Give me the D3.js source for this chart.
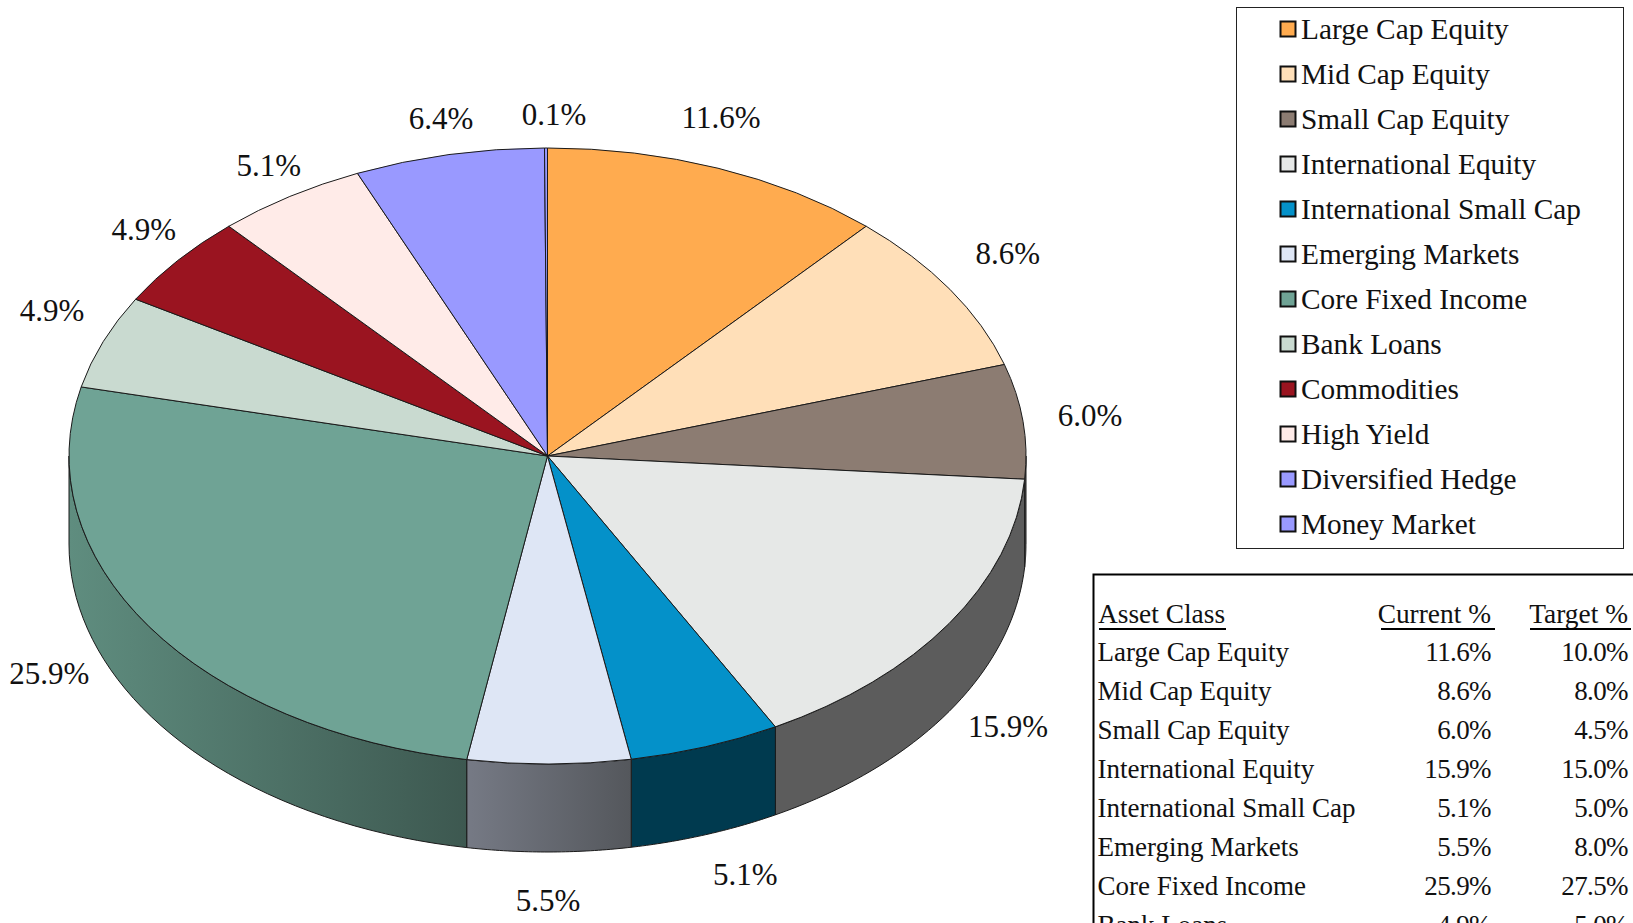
<!DOCTYPE html>
<html><head><meta charset="utf-8">
<style>html,body{margin:0;padding:0;background:#fff;overflow:hidden}text{font-family:"Liberation Serif",serif;fill:#111}</style>
<script src="https://cdnjs.cloudflare.com/ajax/libs/d3/7.8.5/d3.min.js"></script></head><body>
<script>
const categories=["Large Cap Equity","Mid Cap Equity","Small Cap Equity","International Equity","International Small Cap","Emerging Markets","Core Fixed Income","Bank Loans","Commodities","High Yield","Diversified Hedge","Money Market"];
const currentPct=[11.6,8.6,6.0,15.9,5.1,5.5,25.9,4.9,4.9,5.1,6.4,0.1];
const tableCategories=categories.slice(0,8);
const targetPct=[10.0,8.0,4.5,15.0,5.0,8.0,27.5,5.0];
const topColors=["#FFAB4F","#FFDFB8","#8C7C72","#E6E8E7","#0491C9","#DEE6F5","#6FA395","#C9DAD0","#9A1420","#FFEBE8","#9999FF","#9999FF"];
const sideLeft=["#000","#000","#5c5c5c","#5c5c5c","#003A4F","#767A85","#5F8D7F","#000","#000","#000","#000","#000"];
const sideRight=["#000","#000","#5c5c5c","#5c5c5c","#003A4F","#54575C","#3D5850","#000","#000","#000","#000","#000"];
const labelNudge=[[3,-51],[58,-36],[67,-6],[59,103],[40,128],[-1,137],[-100,47],[-51,-31],[-34,-31],[-21,-31],[-8,-36],[8,-34]];

const W=1633,H=923,cx=547.5,cy=456,rx=478.5,ry=308,depth=88;
const svg=d3.select("body").append("svg").attr("width",W).attr("height",H).style("display","block");
const defs=svg.append("defs");
const pie=d3.pie().sort(null).value(d=>d)(currentPct);
const px=a=>cx+rx*Math.sin(a), py=a=>cy-ry*Math.cos(a);
const pieG=svg.append("g");

// side walls (front half of the rim only)
const lo=Math.PI/2, hi=3*Math.PI/2;
pie.forEach((s,i)=>{
  const a0=Math.max(s.startAngle,lo),a1=Math.min(s.endAngle,hi);
  if(a1<=a0) return;
  const angs=d3.range(0,41).map(k=>a0+(a1-a0)*k/40);
  const pts=angs.map(a=>[px(a),py(a)]).concat(angs.slice().reverse().map(a=>[px(a),py(a)+depth]));
  const id="side"+i;
  const xs=pts.map(p=>p[0]);
  const g=defs.append("linearGradient").attr("id",id).attr("gradientUnits","userSpaceOnUse")
    .attr("x1",d3.min(xs)).attr("x2",d3.max(xs)).attr("y1",0).attr("y2",0);
  g.append("stop").attr("offset",0).attr("stop-color",sideLeft[i]);
  g.append("stop").attr("offset",1).attr("stop-color",sideRight[i]);
  pieG.append("path").attr("d",d3.line()(pts)+"Z").attr("fill",`url(#${id})`).attr("stroke","#1a1a1a").attr("stroke-width",1).attr("stroke-linejoin","round");
});

// top face
const arc=d3.arc().innerRadius(0).outerRadius(rx);
pieG.selectAll("path.top").data(pie).join("path").attr("class","top")
  .attr("d",arc).attr("transform",`translate(${cx},${cy}) scale(1,${ry/rx})`)
  .attr("fill",(d,i)=>topColors[i]).attr("stroke","#1a1a1a").attr("stroke-width",1)
  .attr("vector-effect","non-scaling-stroke").attr("stroke-linejoin","round");

// data labels
const fmt=d3.format(".1f");
svg.append("g").selectAll("text").data(pie).join("text")
  .attr("x",(d,i)=>px((d.startAngle+d.endAngle)/2)+labelNudge[i][0])
  .attr("y",(d,i)=>py((d.startAngle+d.endAngle)/2)+labelNudge[i][1])
  .attr("text-anchor","middle").attr("dominant-baseline","central").attr("font-size",31)
  .text(d=>fmt(d.value)+"%");

// legend
svg.append("rect").attr("x",1236.5).attr("y",7.5).attr("width",387).attr("height",541).attr("fill","#fff").attr("stroke","#222").attr("stroke-width",1);
const ly=d3.scalePoint().domain(categories).range([29,524]);
const lg=svg.append("g").selectAll("g").data(categories).join("g").attr("transform",d=>`translate(0,${ly(d)})`);
lg.append("rect").attr("x",1280.5).attr("y",-7.5).attr("width",15).attr("height",15)
  .attr("fill",(d,i)=>topColors[i]).attr("stroke","#111").attr("stroke-width",2);
lg.append("text").attr("x",1301).attr("y",0).attr("dominant-baseline","central").attr("font-size",29.3).text(d=>d);

// table
svg.append("rect").attr("x",1093.5).attr("y",574.5).attr("width",600).attr("height",500).attr("fill","none").attr("stroke","#000").attr("stroke-width",2);
const rowY=d3.scalePoint().domain(tableCategories).range([661,934]);
const hdr=[["Asset Class",1098,"start",1099,1226],["Current %",1491,"end",1381,1495],["Target %",1628,"end",1530,1631]];
hdr.forEach(h=>{
  svg.append("text").attr("x",h[1]).attr("y",623).attr("text-anchor",h[2]).attr("font-size",27.4).text(h[0]);
  svg.append("line").attr("x1",h[3]).attr("x2",h[4]).attr("y1",629).attr("y2",629).attr("stroke","#000").attr("stroke-width",2);
});
const rows=svg.append("g").selectAll("g").data(tableCategories).join("g").attr("transform",d=>`translate(0,${rowY(d)})`);
rows.append("text").attr("x",1097.5).attr("font-size",27).text(d=>d);
rows.append("text").attr("x",1491).attr("text-anchor","end").attr("font-size",27).style("letter-spacing","-0.6px").text((d,i)=>fmt(currentPct[i])+"%");
rows.append("text").attr("x",1628).attr("text-anchor","end").attr("font-size",27).style("letter-spacing","-0.6px").text((d,i)=>fmt(targetPct[i])+"%");
</script></body></html>
